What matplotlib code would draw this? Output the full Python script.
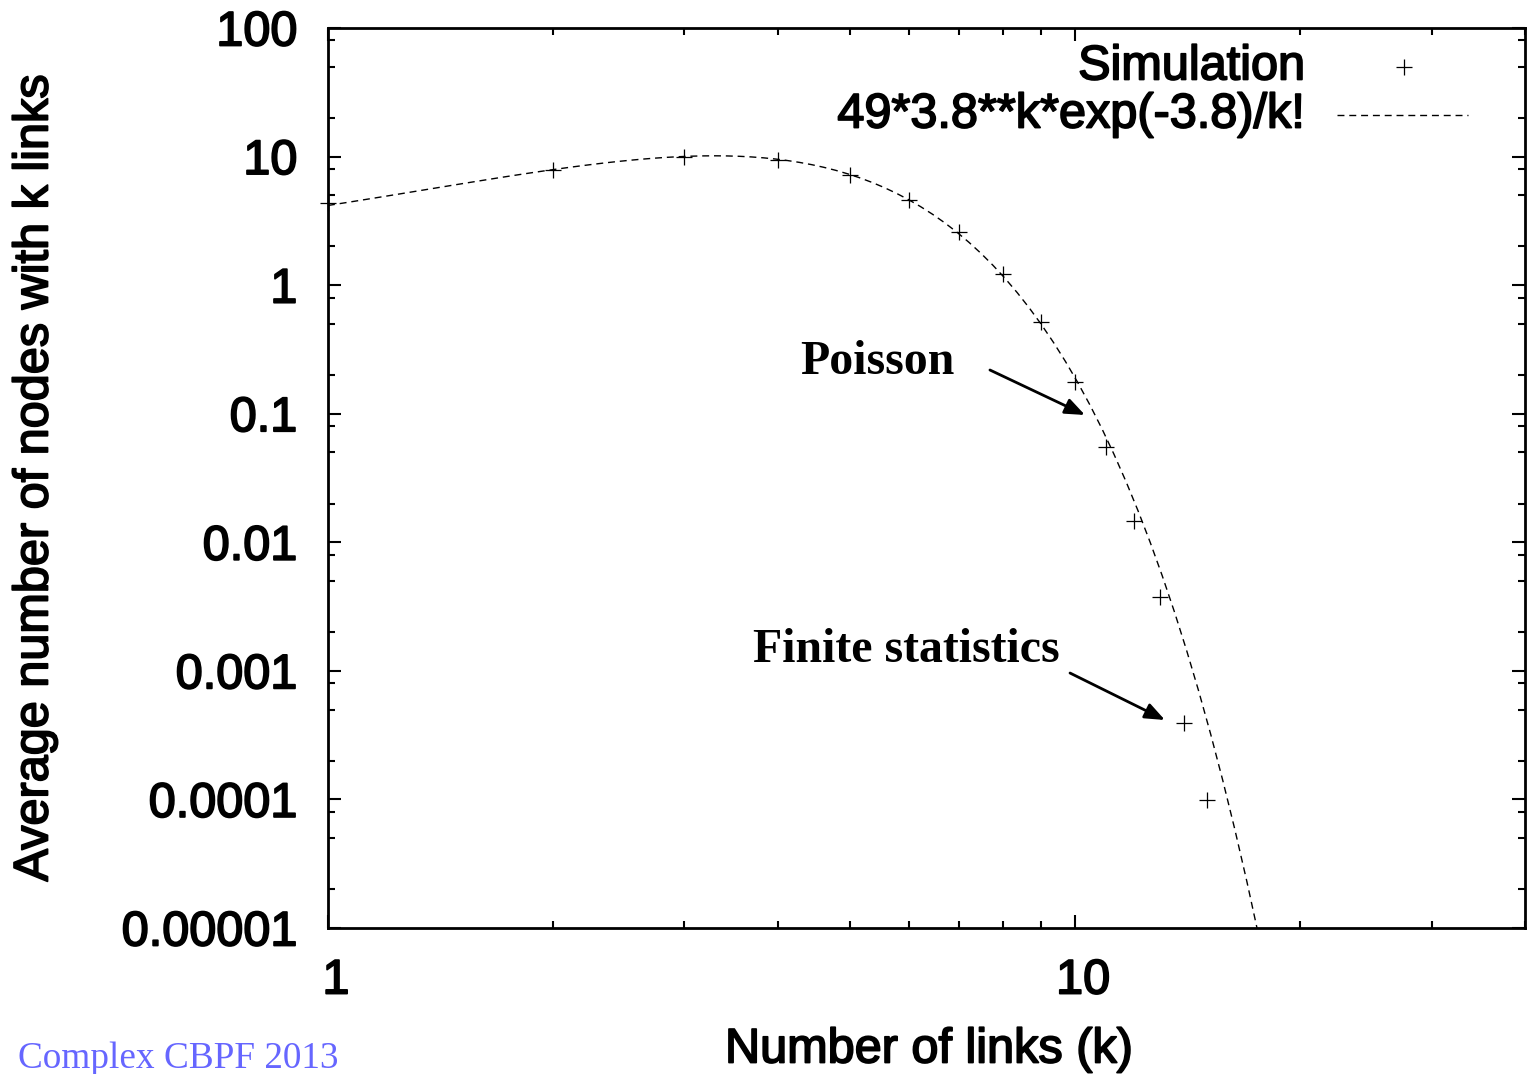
import math
import numpy as np
import matplotlib
matplotlib.use("Agg")
import matplotlib.pyplot as plt
import matplotlib.patheffects as pe
from matplotlib.ticker import FixedLocator, NullFormatter
from matplotlib.transforms import ScaledTranslation

# Simulated degree distribution: average number of nodes with k links
k_sim = [1, 2, 3, 4, 5, 6, 7, 8, 9, 10, 11, 12, 13, 14, 15]
n_sim = [4.36, 7.87, 9.93, 9.42, 7.2, 4.6, 2.59, 1.22, 0.518, 0.177,
         0.0552, 0.0147, 0.00376, 0.000394, 0.0000993]

# Poisson curve parameters: 49*3.8**k*exp(-3.8)/k!
fit_norm = 49.0
fit_mean = 3.8
fit_label = "49*3.8**k*exp(-3.8)/k!"

x_ticks = [1, 10]
x_ticklabels = ["1", "10"]
y_ticks = [1e-5, 1e-4, 1e-3, 1e-2, 1e-1, 1, 10, 100]
y_ticklabels = ["0.00001", "0.0001", "0.001", "0.01", "0.1", "1", "10", "100"]

W, H = 1528, 1074
fig = plt.figure(figsize=(W / 100, H / 100), dpi=100)
L, R, T, B = 328, 1525, 28, 928
ax = fig.add_axes([L / W, (H - B) / H, (R - L) / W, (B - T) / H])

sans = ["Liberation Sans", "DejaVu Sans"]
serif = ["Liberation Serif", "DejaVu Serif"]
heavy = [pe.withStroke(linewidth=1.3, foreground="black")]

ax.set_xscale("log")
ax.set_yscale("log")
ax.set_xlim(1, 40)
ax.set_ylim(1e-5, 100)

# Poisson curve sampled on a logarithmic grid
k_fit = np.logspace(0, math.log10(40), 100)
n_fit = np.array([fit_norm * math.exp(k * math.log(fit_mean) - fit_mean - math.lgamma(k + 1))
                  for k in k_fit])
ax.plot(k_fit, n_fit, color="black", lw=1.0, dashes=(5, 3.5))

ax.plot(k_sim, n_sim, ls="none", marker="+", ms=11, mew=0.9, color="black", clip_on=False, zorder=3)

# Axis frame and ticks
for s in ax.spines.values():
    s.set_linewidth(2.0)
ax.xaxis.set_major_locator(FixedLocator(x_ticks))
ax.xaxis.set_minor_locator(FixedLocator([2, 3, 4, 5, 6, 7, 8, 9, 20, 30, 40]))
ax.xaxis.set_minor_formatter(NullFormatter())
ax.set_xticklabels(x_ticklabels)
ax.yaxis.set_major_locator(FixedLocator(y_ticks))
ymin = [m * 10.0 ** e for e in range(-5, 2) for m in (2, 5, 8)]
ax.yaxis.set_minor_locator(FixedLocator(ymin))
ax.yaxis.set_minor_formatter(NullFormatter())
ax.set_yticklabels(y_ticklabels)
ax.tick_params(which="both", direction="in", top=True, right=True, width=1.5, color="black")
ax.tick_params(which="major", length=9.5)
ax.tick_params(which="minor", length=5)
ax.tick_params(axis="y", which="major", pad=22)
ax.tick_params(axis="x", which="major", pad=22)
for lab in ax.get_xticklabels() + ax.get_yticklabels():
    lab.set_fontfamily(sans)
    lab.set_fontsize(35)
    lab.set_path_effects(heavy)
shift = ScaledTranslation(0.08, 0, fig.dpi_scale_trans)
for lab in ax.get_xticklabels():
    lab.set_transform(lab.get_transform() + shift)

ax.set_xlabel("Number of links (k)", fontsize=35, family=sans, path_effects=heavy)
ax.xaxis.set_label_coords(0.502, (B - 1050) / (B - T))
ax.xaxis.label.set_va("center")
ax.set_ylabel("Average number of nodes with k links", fontsize=35, family=sans, path_effects=heavy)
ax.yaxis.set_label_coords((35 - L) / (R - L), 0.5)
ax.yaxis.label.set_va("center")

# Key, drawn in axes coordinates
ax.text(0.8162, 0.9567, "Simulation", transform=ax.transAxes, ha="right", va="center",
        fontsize=35, family=sans, path_effects=heavy)
ax.plot([0.8989], [0.9567], transform=ax.transAxes, ls="none", marker="+", ms=11, mew=0.9,
        color="black")
ax.text(0.8162, 0.9033, fit_label, transform=ax.transAxes, ha="right", va="center",
        fontsize=35, family=sans, path_effects=heavy)
ax.plot([0.843, 0.9524], [0.9033, 0.9033], transform=ax.transAxes, color="black", lw=1.0,
        dashes=(5, 3.5))

# Annotations
arrow = dict(arrowstyle="-|>,head_length=0.6,head_width=0.24", lw=2.0,
             color="black", shrinkA=0, shrinkB=0, mutation_scale=20)
ax.text(0.4586, 0.6289, "Poisson", transform=ax.transAxes, ha="center", va="center",
        fontsize=34.5, family=serif, fontweight="bold")
ax.annotate("", xy=(0.6324, 0.57), xytext=(0.553, 0.62), xycoords="axes fraction",
            textcoords="axes fraction", arrowprops=arrow)
ax.text(0.4829, 0.3089, "Finite statistics", transform=ax.transAxes, ha="center", va="center",
        fontsize=34.5, family=serif, fontweight="bold")
ax.annotate("", xy=(0.6992, 0.2311), xytext=(0.6199, 0.2833), xycoords="axes fraction",
            textcoords="axes fraction", arrowprops=arrow)

fig.text(18 / W, (H - 1068) / H, "Complex CBPF 2013", ha="left", va="baseline",
         fontsize=26.8, family=serif, color="#6666ff")

fig.savefig("out.png", dpi=100)
